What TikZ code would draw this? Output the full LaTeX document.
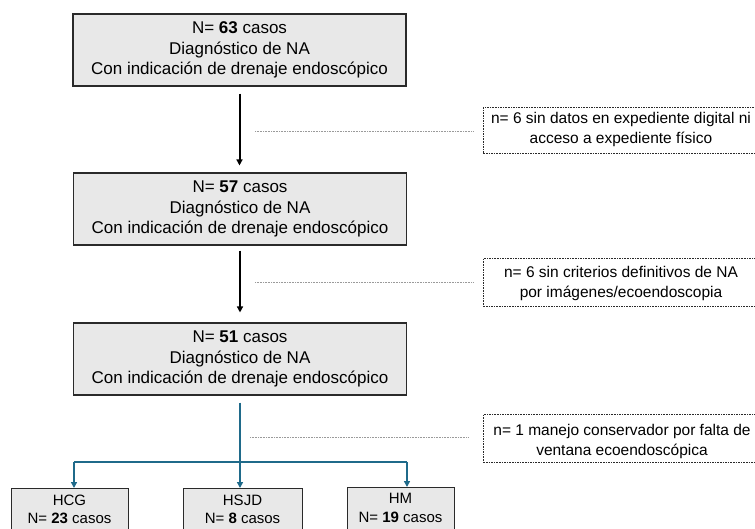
\documentclass[tikz,border=0pt]{standalone}
\usepackage{fontspec}
\setmainfont{Liberation Sans}
\usetikzlibrary{arrows.meta}
\definecolor{boxfill}{HTML}{E8E8E8}
\definecolor{boxline}{HTML}{2A2A2A}
\definecolor{flowblue}{HTML}{1F6A8A}
\definecolor{dotgray}{HTML}{9A9A9A}
\tikzset{
  mainbox/.style={draw=boxline, line width=1.1pt, fill=boxfill, minimum width=333pt, minimum height=72pt, align=center, inner sep=0pt, font=\fontsize{17}{20.5}\selectfont},
  hospbox/.style={draw=boxline, line width=1.1pt, fill=boxfill, anchor=north west, minimum height=60pt, inner sep=0pt},
  hosptext/.style={align=center, font=\fontsize{15}{18.5}\selectfont, inner sep=0pt, anchor=north},
  dbox/.style={draw=boxline, dash pattern=on 1.6pt off 1pt, line width=0.8pt, anchor=north west, inner sep=0pt},
  dtext/.style={align=center, font=\fontsize{15.5}{20}\selectfont, inner sep=0pt},
  blackarrow/.style={draw=black, line width=2pt, -{Triangle[length=6pt,width=6pt]}},
  bluearrow/.style={draw=flowblue, line width=1.6pt, -{Triangle[length=6pt,width=6pt]}},
  blueline/.style={draw=flowblue, line width=1.6pt},
  dotline/.style={draw=dotgray, line width=0.8pt, dash pattern=on 0.8pt off 0.8pt},
}
\begin{document}
\begin{tikzpicture}[x=1pt,y=-1pt]
\useasboundingbox (0,0) rectangle (755,529);
\clip (0,0) rectangle (755,529);
\fill[white] (0,0) rectangle (755,529);

% main boxes
\node[mainbox] (b1) at (239.5,50) {N= \textbf{63} casos\\Diagnóstico de NA\\Con indicación de drenaje endoscópico};
\node[mainbox] (b2) at (240,209) {N= \textbf{57} casos\\Diagnóstico de NA\\Con indicación de drenaje endoscópico};
\node[mainbox] (b3) at (240,359) {N= \textbf{51} casos\\Diagnóstico de NA\\Con indicación de drenaje endoscópico};

% black arrows
\draw[blackarrow, shorten <=7pt, shorten >=7pt] (b1.south -| 239.5,0) -- (b2.north -| 239.5,0);
\draw[blackarrow, shorten <=5pt, shorten >=10pt] (b2.south) -- (b3.north);

% exclusion boxes
\node[dbox, minimum width=280pt, minimum height=46pt] (e1) at (483,107) {};
\node[dtext] (t1) at (621,129.5) {n= 6 sin datos en expediente digital ni\\acceso a expediente físico};
\node[dbox, minimum width=280pt, minimum height=48pt] (e2) at (483,258) {};
\node[dtext] (t2) at (621,283) {n= 6 sin criterios definitivos de NA\\por imágenes/ecoendoscopia};
\node[dbox, minimum width=280pt, minimum height=48pt] (e3) at (483,414) {};
\node[dtext] (t3) at (622,441) {n= 1 manejo conservador por falta de\\ventana ecoendoscópica};

% dotted connectors
\coordinate (d1s) at (255,131);
\coordinate (d1e) at (473,131);
\draw[dotline] (d1s) -- (d1e);
\coordinate (d2s) at (255,282);
\coordinate (d2e) at (473,282);
\draw[dotline] (d2s) -- (d2e);
\coordinate (d3s) at (250,437);
\coordinate (d3e) at (468,437);
\draw[dotline] (d3s) -- (d3e);

% hospital boxes
\node[hospbox, minimum width=117pt] (h1) at (11,488) {};
\node[hosptext] (h1t) at (69.5,494.5) {HCG\\N= \textbf{23} casos};
\node[hospbox, minimum width=119pt] (h2) at (183,488) {};
\node[hosptext] (h2t) at (242.5,494.5) {HSJD\\N= \textbf{8} casos};
\node[hospbox, minimum width=107pt] (h3) at (347,487) {};
\node[hosptext] (h3t) at (400.5,493) {HM\\N= \textbf{19} casos};

% blue split
\coordinate (split) at (240,462);
\coordinate (sl) at (74,462);
\coordinate (sr) at (407,462);
\draw[blueline, shorten <=7pt] (b3.south) -- (split);
\draw[blueline] (sl) -- (sr);
\draw[bluearrow] (split) -- (split |- h2.north);
\draw[bluearrow] (sl) -- (sl |- h1.north);
\draw[bluearrow] (sr) -- (sr |- h3.north);
\end{tikzpicture}
\end{document}
